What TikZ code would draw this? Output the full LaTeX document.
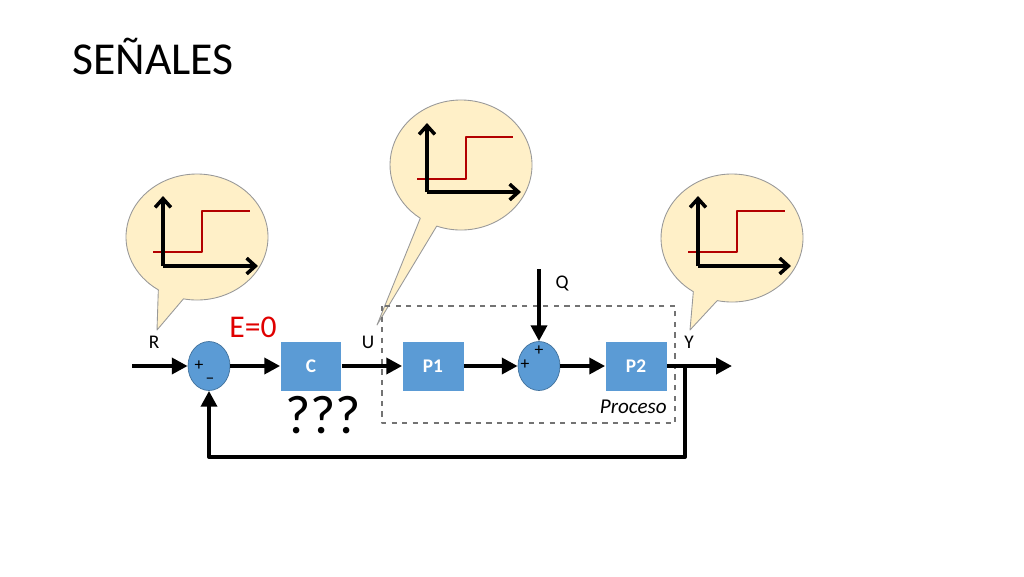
\documentclass[tikz,border=0pt]{standalone}
\usepackage{fontspec}
\setmainfont{Carlito}
\usetikzlibrary{arrows.meta,shapes.geometric}
\definecolor{bloque}{HTML}{5B9BD5}
\definecolor{borde}{HTML}{41719C}
\definecolor{globo}{HTML}{FFF0C8}
\definecolor{rojo}{HTML}{E00000}
\tikzset{
  sig/.style={line width=2.3pt,-{Triangle[length=9pt,width=9pt]}},
  eje/.style={line width=2pt,-{Straight Barb[length=5pt,width=9pt]}},
  bloq/.style={rectangle,fill=bloque,text=white,minimum width=1.22cm,minimum height=0.98cm,inner sep=0pt,font=\fontsize{11}{13}\selectfont\bfseries},
  suma/.style={ellipse,fill=bloque,draw=borde,minimum width=0.84cm,minimum height=0.98cm,inner sep=0pt},
  etq/.style={font=\fontsize{11}{13}\selectfont,inner sep=0pt},
  signo/.style={font=\fontsize{10}{12}\selectfont,inner sep=0pt},
  burbuja/.style={fill=globo,draw=gray!80,line width=0.5pt},
  escalon/.style={draw=rojo!80!black,line width=0.8pt}
}
\begin{document}
\begin{tikzpicture}[x=0.02cm,y=-0.02cm,line join=round]
  \useasboundingbox (0,0) rectangle (1024,576);
  \node[anchor=south west,font=\fontsize{26}{30}\selectfont,inner sep=0pt] (titulo) at (72,75) {SEÑALES};
  % globos
  \draw[burbuja] (197,237) ++(101:71 and 63) arc[start angle=101,end angle=-237,x radius=71,y radius=63] -- (157,330) -- cycle;
  \draw[burbuja] (461,165) ++(110:71 and 65) arc[start angle=110,end angle=-235,x radius=71,y radius=65] -- (377,325) -- cycle;
  \draw[burbuja] (732,238) ++(102:71 and 64) arc[start angle=102,end angle=-237,x radius=71,y radius=64] -- (690,330) -- cycle;
  % graficas
  \draw[escalon] (153,252) -- (202,252) -- (202,211) -- (250,211);
  \draw[eje] (163,266) -- (163,196);
  \draw[eje] (163,266) -- (258,266);
  \draw[escalon] (417,179) -- (466,179) -- (466,137) -- (513,137);
  \draw[eje] (427,192) -- (427,123);
  \draw[eje] (427,192) -- (521,192);
  \draw[escalon] (688,252) -- (737,252) -- (737,211) -- (785,211);
  \draw[eje] (698,266) -- (698,196);
  \draw[eje] (698,266) -- (791,266);
  % proceso
  \draw[dashed,draw=gray!90!black,line width=0.6pt] (382,306) rectangle (675,423);
  \node[etq,anchor=south east,font=\fontsize{12}{14}\selectfont\itshape] (proc) at (667,414) {Proceso};
  % bloques
  \node[suma] (s1) at (209,366) {};
  \node[bloq] (c) at (311,366) {C};
  \node[bloq] (p1) at (433,366) {P1};
  \node[suma] (s2) at (539,366) {};
  \node[bloq] (p2) at (636,366) {P2};
  \node[signo] (m1) at (199,366) {+};
  \node[signo] (m2) at (210,381) {\textendash};
  \node[signo] (m3) at (525,365) {+};
  \node[signo] (m4) at (539,351) {+};
  \coordinate (in) at (132,366);
  \coordinate (q) at (539,269);
  \coordinate (out) at (732,366);
  \coordinate (fb) at (685,366);
  \coordinate (fbc) at (685,457);
  \draw[sig] (in) -- (s1.west);
  \draw[sig] (s1) -- (c);
  \draw[sig] (c) -- (p1);
  \draw[sig] (p1) -- (s2);
  \draw[sig] (q) -- (s2.north);
  \draw[sig] (s2) -- (p2);
  \draw[sig] (p2) -- (out);
  \draw[sig] (fb) -- (fbc) -| (s1.south);
  % textos
  \node[etq] (r) at (154,342) {R};
  \node[etq] (u) at (368,342) {U};
  \node[etq] (y) at (689,342) {Y};
  \node[etq] (ql) at (562,283) {Q};
  \node[text=rojo,font=\fontsize{18}{20}\selectfont,inner sep=0pt] (e) at (253,327) {E=0};
  \node[font=\fontsize{31}{34}\selectfont,inner sep=0pt] (inc) at (323,415) {???};
\end{tikzpicture}
\end{document}
